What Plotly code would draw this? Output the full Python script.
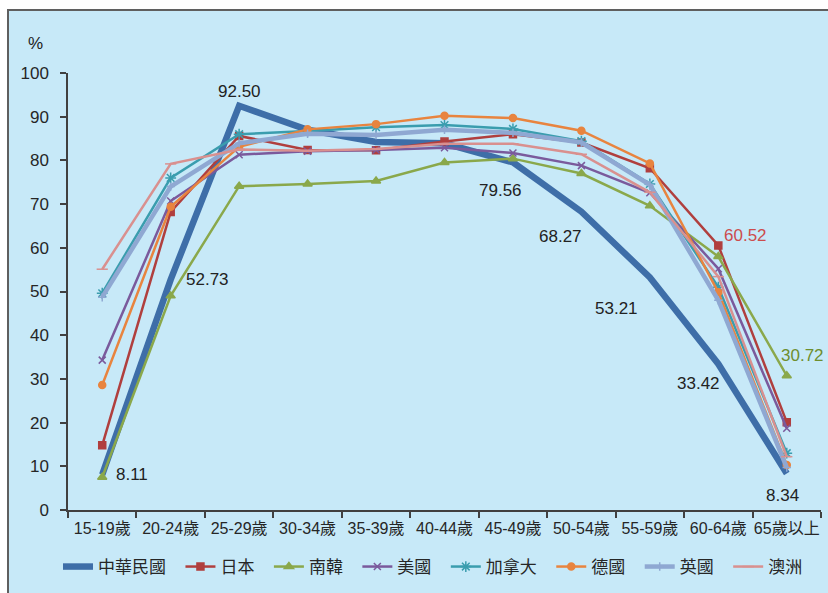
import plotly.graph_objects as go

categories = ["15-19歲", "20-24歲", "25-29歲", "30-34歲", "35-39歲", "40-44歲",
              "45-49歲", "50-54歲", "55-59歲", "60-64歲", "65歲以上"]

taiwan    = [8.11, 52.73, 92.50, 87.0, 84.2, 83.9, 79.56, 68.27, 53.21, 33.42, 8.34]
japan     = [14.8, 68.2, 85.6, 82.4, 82.3, 84.3, 86.0, 84.1, 78.2, 60.52, 20.1]
korea     = [7.5, 49.0, 74.1, 74.6, 75.3, 79.5, 80.4, 77.0, 69.6, 58.0, 30.72]
usa       = [34.3, 70.7, 81.3, 82.1, 82.4, 82.9, 81.7, 78.8, 72.6, 55.2, 18.7]
canada    = [49.6, 76.0, 86.0, 86.7, 87.6, 88.1, 87.2, 84.4, 74.6, 51.0, 13.0]
germany   = [28.6, 69.4, 83.1, 87.1, 88.3, 90.2, 89.7, 86.8, 79.3, 49.8, 10.3]
uk        = [48.7, 74.0, 83.9, 86.1, 85.8, 87.0, 86.3, 84.1, 74.4, 48.0, 9.7]
australia = [55.1, 79.2, 82.5, 82.2, 82.6, 83.8, 83.8, 81.4, 72.7, 53.4, 12.2]

series = [
    ("中華民國", taiwan,    "#3E6EA8", 6.5, None, 0),
    ("日本",     japan,     "#B03F3E", 2.5, "square", 7),
    ("南韓",     korea,     "#8AA84B", 2.5, "triangle-up", 8),
    ("美國",     usa,       "#7A5A9C", 2.5, "x-thin", 7),
    ("加拿大",   canada,    "#3A9DAE", 2.5, "asterisk", 9),
    ("德國",     germany,   "#E8843F", 2.5, "circle", 7),
    ("英國",     uk,        "#8FA8D2", 4.5, "cross-thin", 6),
    ("澳洲",     australia, "#D9908F", 2.5, "line-ew", 8),
]

FONT = "Liberation Sans, Arial, Noto Sans CJK TC, sans-serif"
BG = "#C7E9F8"
PAD = "\u00a0\u00a0"

fig = go.Figure()
for name, vals, col, lw, sym, ms in series:
    if sym is None:
        fig.add_trace(go.Scatter(x=categories, y=vals, name=name + PAD, mode="lines",
                                 line=dict(color=col, width=lw)))
    else:
        fig.add_trace(go.Scatter(x=categories, y=vals, name=name + PAD, mode="lines+markers",
                                 line=dict(color=col, width=lw),
                                 marker=dict(symbol=sym, size=ms, color=col,
                                             line=dict(color=col, width=1.5))))

# data labels: (series values, index, x shift, y shift, colour)
label_specs = [
    (taiwan, 0, 30, 0, "#222222"),
    (taiwan, 1, 37, 0, "#222222"),
    (taiwan, 2, 0, 14, "#222222"),
    (taiwan, 6, -12, -28, "#222222"),
    (taiwan, 7, -21, -25, "#222222"),
    (taiwan, 8, -33, -31, "#222222"),
    (taiwan, 9, -20, -20, "#222222"),
    (taiwan, 10, -4, -22, "#222222"),
    (japan, 9, 27, 10, "#CC4C4C"),
    (korea, 10, 16, 20, "#6E8E2E"),
]
annotations = []
for vals, i, dx, dy, col in label_specs:
    annotations.append(dict(x=categories[i], y=vals[i], text=f"{vals[i]:.2f}",
                            xshift=dx, yshift=dy, showarrow=False,
                            xanchor="center", yanchor="middle",
                            font=dict(size=17, color=col, family=FONT)))

L, R, T, B = 68, 7, 73, 83
W, H = 828, 593
pw, ph = W - L - R, H - T - B

def px_x(p):
    return (p - L) / pw

def px_y(p):
    return (H - B - p) / ph

annotations.append(dict(x=px_x(35), y=px_y(43), xref="paper", yref="paper",
                        xanchor="center", yanchor="middle",
                        text="%", showarrow=False,
                        font=dict(size=17, color="#222222", family=FONT)))

shapes = [
    dict(type="rect", xref="paper", yref="paper", layer="below",
         x0=px_x(8), x1=px_x(860), y0=px_y(620), y1=px_y(10),
         fillcolor=BG, line=dict(color="#5F5F5F", width=2)),
]

fig.update_layout(
    width=W, height=H,
    margin=dict(l=L, r=R, t=T, b=B, autoexpand=False),
    paper_bgcolor="white",
    plot_bgcolor=BG,
    font=dict(family=FONT, size=16, color="#262626"),
    showlegend=True,
    legend=dict(orientation="h", xref="paper", yref="paper",
                x=px_x(58), y=px_y(567), xanchor="left", yanchor="middle",
                font=dict(size=17, color="#262626", family=FONT),
                bgcolor="rgba(0,0,0,0)", itemwidth=30, tracegroupgap=0),
    xaxis=dict(type="category", range=[-0.5, len(categories) - 0.5],
               showgrid=False, showline=True, linecolor="#404040",
               linewidth=1.5, ticks="outside", tickson="boundaries", ticklen=6,
               tickcolor="#404040", tickwidth=1.5, tickfont=dict(size=16),
               tickangle=0, automargin=False, zeroline=False, ticklabelstandoff=3),
    yaxis=dict(range=[0, 100], tickvals=[0, 10, 20, 30, 40, 50, 60, 70, 80, 90, 100],
               showgrid=False, showline=True, linecolor="#404040", linewidth=1.5,
               ticks="outside", ticklen=6, tickcolor="#404040", tickwidth=1.5,
               tickfont=dict(size=17), automargin=False, zeroline=False,
               ticklabelstandoff=8),
    annotations=annotations,
    shapes=shapes,
)

fig.write_html("out.html", config={"displayModeBar": False},
               post_script="document.body.style.margin='0';")
